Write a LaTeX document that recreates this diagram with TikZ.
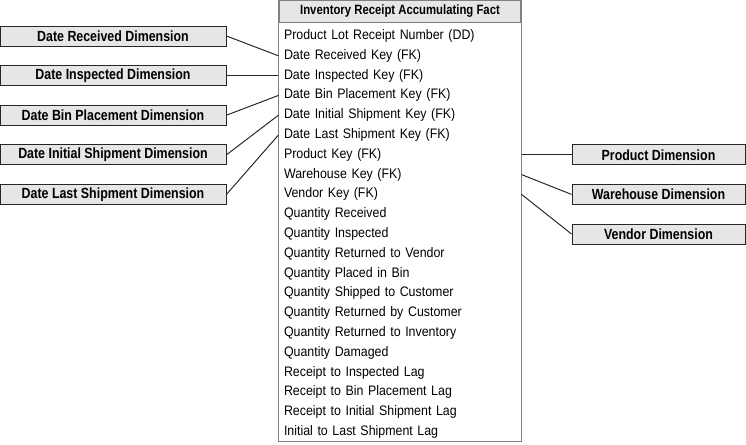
\documentclass[tikz,border=0pt]{standalone}
\usepackage{fontspec}
\setmainfont{Liberation Sans}[FakeStretch=0.9, BoldFeatures={FakeStretch=0.84}]
\usetikzlibrary{positioning}
\definecolor{DimFill}{RGB}{230, 230, 230}
\definecolor{FactGray}{RGB}{128, 128, 128}

\begin{document}
\begin{tikzpicture}[
        dim/.style={rectangle, draw=black!85, fill=DimFill, line width=0.7pt, minimum height=0.5cm, inner sep=0pt, font=\fontsize{10.5}{12}\bfseries},
        field/.style={rectangle, text width=5.8cm, minimum height=0.495cm, inner sep=0pt, outer sep=0pt, align=left, font=\fontsize{9.8}{11.5}\selectfont},
        link/.style={line width=0.7pt, black!85}
    ]
        \useasboundingbox (0, 0) rectangle (18.65, 11.1);

        % Fact table
        \node[rectangle, draw=FactGray, fill=DimFill, line width=0.8pt, minimum width=6.05cm, minimum height=0.525cm, font=\fontsize{9.6}{11}\bfseries] (hdr) at (10, 10.8125) {Inventory Receipt Accumulating Fact};
        \node[field, anchor=west] (f1) at (7.1, 10.2) {Product Lot Receipt Number (DD)};
        \node[field, below=0pt of f1] (f2) {Date Received Key (FK)};
        \node[field, below=0pt of f2] (f3) {Date Inspected Key (FK)};
        \node[field, below=0pt of f3] (f4) {Date Bin Placement Key (FK)};
        \node[field, below=0pt of f4] (f5) {Date Initial Shipment Key (FK)};
        \node[field, below=0pt of f5] (f6) {Date Last Shipment Key (FK)};
        \node[field, below=0pt of f6] (f7) {Product Key (FK)};
        \node[field, below=0pt of f7] (f8) {Warehouse Key (FK)};
        \node[field, below=0pt of f8] (f9) {Vendor Key (FK)};
        \node[field, below=0pt of f9] (f10) {Quantity Received};
        \node[field, below=0pt of f10] (f11) {Quantity Inspected};
        \node[field, below=0pt of f11] (f12) {Quantity Returned to Vendor};
        \node[field, below=0pt of f12] (f13) {Quantity Placed in Bin};
        \node[field, below=0pt of f13] (f14) {Quantity Shipped to Customer};
        \node[field, below=0pt of f14] (f15) {Quantity Returned by Customer};
        \node[field, below=0pt of f15] (f16) {Quantity Returned to Inventory};
        \node[field, below=0pt of f16] (f17) {Quantity Damaged};
        \node[field, below=0pt of f17] (f18) {Receipt to Inspected Lag};
        \node[field, below=0pt of f18] (f19) {Receipt to Bin Placement Lag};
        \node[field, below=0pt of f19] (f20) {Receipt to Initial Shipment Lag};
        \node[field, below=0pt of f20] (f21) {Initial to Last Shipment Lag};
        \draw[FactGray, line width=0.8pt] (hdr.north west) rectangle (hdr.east |- f21.south);

        % Date dimensions
        \node[dim, minimum width=5.65cm] (dRec) at ({2.825, 0} |- f1) {Date Received Dimension};
        \node[dim, minimum width=5.65cm] (dIns) at ({2.825, 0} |- f3) {Date Inspected Dimension};
        \node[dim, minimum width=5.65cm] (dBin) at ({2.825, 0} |- f5) {Date Bin Placement Dimension};
        \node[dim, minimum width=5.65cm] (dIni) at ({2.825, 0} |- f7) {Date Initial Shipment Dimension};
        \node[dim, minimum width=5.65cm] (dLst) at ({2.825, 0} |- f9) {Date Last Shipment Dimension};
        \draw[link] (dRec.east) -- (hdr.west |- f2);
        \draw[link] (dIns.east) -- (hdr.west |- f3);
        \draw[link] (dBin.east) -- (hdr.west |- f4);
        \draw[link] (dIni.east) -- (hdr.west |- f5);
        \draw[link] (dLst.east) -- (hdr.west |- f6);

        % Other dimensions
        \node[dim, minimum width=4.325cm] (dPrd) at ({16.4625, 0} |- f7) {Product Dimension};
        \node[dim, minimum width=4.325cm] (dWhs) at ({16.4625, 0} |- f9) {Warehouse Dimension};
        \node[dim, minimum width=4.325cm] (dVnd) at ({16.4625, 0} |- f11) {Vendor Dimension};
        \draw[link] (dPrd.west) -- (hdr.east |- f7);
        \draw[link] (dWhs.west) -- (hdr.east |- f8);
        \draw[link] (dVnd.west) -- (hdr.east |- f9);
    \end{tikzpicture}
\end{document}
